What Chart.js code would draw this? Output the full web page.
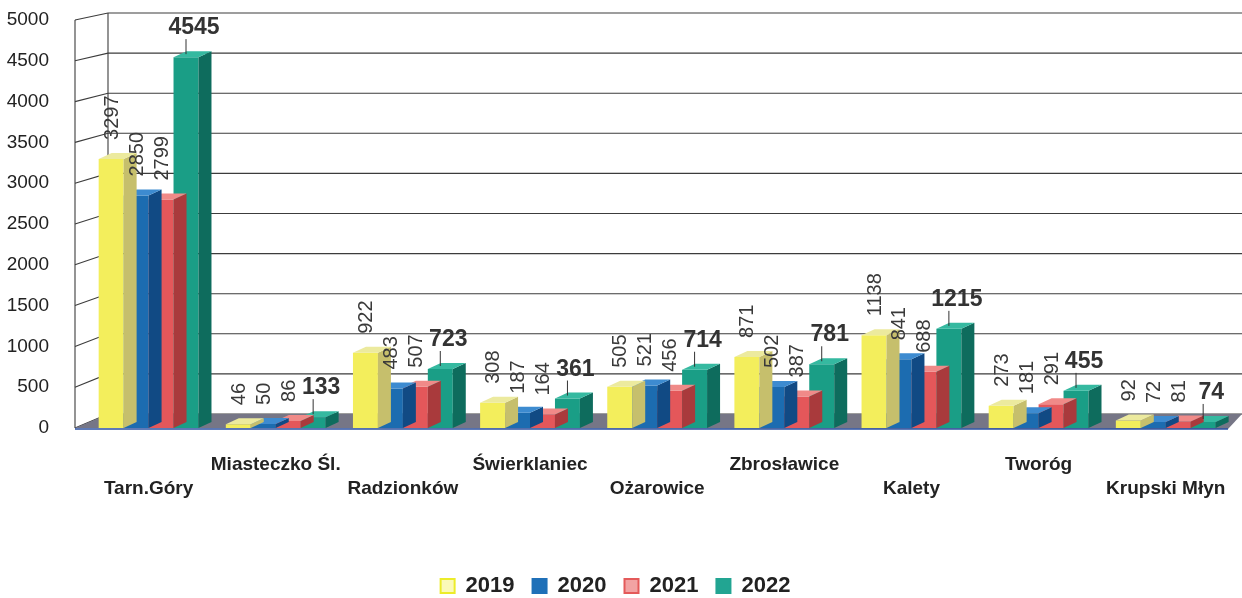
<!DOCTYPE html>
<html>
<head>
<meta charset="utf-8">
<script src="https://cdn.jsdelivr.net/npm/chart.js@4/dist/chart.umd.min.js"></script>
<style>
  html, body { margin: 0; padding: 0; background: #fff; }
  #wrap { width: 1242px; height: 598px; }
</style>
</head>
<body>
<div id="wrap"><canvas id="gminyChart"></canvas></div>
<script>
// dane z wykresu
const categories = ['Tarn.Góry', 'Miasteczko Śl.', 'Radzionków', 'Świerklaniec', 'Ożarowice',
  'Zbrosławice', 'Kalety', 'Tworóg', 'Krupski Młyn'];
const years = ['2019', '2020', '2021', '2022'];
const values2019 = [3297, 46, 922, 308, 505, 871, 1138, 273, 92];
const values2020 = [2850, 50, 483, 187, 521, 502, 841, 181, 72];
const values2021 = [2799, 86, 507, 164, 456, 387, 688, 291, 81];
const values2022 = [4545, 133, 723, 361, 714, 781, 1215, 455, 74];
const yTicks = [0, 500, 1000, 1500, 2000, 2500, 3000, 3500, 4000, 4500, 5000];

// kolory: przód, bok, góra, legenda
const front = ['#f3ee5c', '#1c6cb0', '#e4575a', '#1a9e86'];
const side = ['#c6bf6c', '#114a84', '#a93a3c', '#0e6c5d'];
const top_ = ['#ecea9e', '#3d8bd0', '#f08a88', '#35b9a0'];
const legendFill = ['#fbf9b8', '#1f70b8', '#f2a3a3', '#22a592'];
const legendStroke = ['#ecec2a', '#1f70b8', '#e45a5a', '#22a592'];

const depthX = 13, depthY = -6;
const font = 'Liberation Sans, Arial, sans-serif';

// tło 3D: ściany i podłoga
const wallPlugin = {
  id: 'wall',
  beforeDatasetsDraw(chart) {
    const c = chart.ctx, ys = chart.scales.y, ca = chart.chartArea;
    const fx = ca.left - 10, bx = ca.left + 23, right = chart.width;
    const yb = v => ys.getPixelForValue(v) - 14 + 7 * v / 5000;
    c.save();
    c.strokeStyle = '#3c3c3c';
    c.lineWidth = 1.1;
    yTicks.forEach(v => {
      c.beginPath();
      c.moveTo(fx, ys.getPixelForValue(v));
      c.lineTo(bx, yb(v));
      c.lineTo(right, yb(v));
      c.stroke();
    });
    c.beginPath();
    c.moveTo(fx, ys.getPixelForValue(0));
    c.lineTo(fx, ys.getPixelForValue(5000));
    c.moveTo(bx, yb(0));
    c.lineTo(bx, yb(5000));
    c.stroke();
    // podłoga
    const f0 = ys.getPixelForValue(0);
    c.fillStyle = '#767686';
    c.beginPath();
    c.moveTo(fx, f0);
    c.lineTo(bx, yb(0));
    c.lineTo(right, yb(0));
    c.lineTo(right - 14, f0 + 1);
    c.closePath();
    c.fill();
    c.strokeStyle = '#2a4fa0';
    c.lineWidth = 1.5;
    c.beginPath();
    c.moveTo(fx, f0 + 1);
    c.lineTo(right - 14, f0 + 1);
    c.stroke();
    c.restore();
  }
};

// boki i wierzchy słupków
const depthPlugin = {
  id: 'depth',
  afterDatasetDraw(chart, args) {
    const c = chart.ctx, i = args.index;
    c.save();
    args.meta.data.forEach(bar => {
      const l = bar.x - bar.width / 2, r = bar.x + bar.width / 2;
      c.fillStyle = side[i];
      c.beginPath();
      c.moveTo(r, bar.y);
      c.lineTo(r + depthX, bar.y + depthY);
      c.lineTo(r + depthX, bar.base + depthY);
      c.lineTo(r, bar.base);
      c.closePath();
      c.fill();
      c.fillStyle = top_[i];
      c.beginPath();
      c.moveTo(l, bar.y);
      c.lineTo(l + depthX, bar.y + depthY);
      c.lineTo(r + depthX, bar.y + depthY);
      c.lineTo(r, bar.y);
      c.closePath();
      c.fill();
    });
    c.restore();
  }
};

// etykiety wartości
const labelPlugin = {
  id: 'valueLabels',
  afterDatasetsDraw(chart) {
    const c = chart.ctx;
    c.save();
    chart.data.datasets.forEach((ds, i) => {
      chart.getDatasetMeta(i).data.forEach((bar, j) => {
        const v = ds.data[j];
        if (i < 3) {
          c.save();
          c.translate(bar.x + 1, bar.y - 19);
          c.rotate(-Math.PI / 2);
          c.font = '20px ' + font;
          c.fillStyle = '#3a3a3a';
          c.textAlign = 'left';
          c.textBaseline = 'middle';
          c.fillText(String(v), 0, 0);
          c.restore();
        } else {
          c.strokeStyle = '#333';
          c.lineWidth = 1;
          c.beginPath();
          c.moveTo(bar.x, bar.y - 18);
          c.lineTo(bar.x, bar.y - 3);
          c.stroke();
          c.font = 'bold 23px ' + font;
          c.fillStyle = '#333';
          c.textAlign = 'center';
          c.textBaseline = 'alphabetic';
          c.fillText(String(v), bar.x + 8, bar.y - 23);
        }
      });
    });
    c.restore();
  }
};

const allValues = [values2019, values2020, values2021, values2022];

new Chart(document.getElementById('gminyChart'), {
  type: 'bar',
  data: {
    labels: categories,
    datasets: years.map((y, i) => ({
      label: y,
      data: allValues[i],
      backgroundColor: front[i],
      borderWidth: 0,
      categoryPercentage: 0.785,
      barPercentage: 1.0
    }))
  },
  options: {
    responsive: true,
    maintainAspectRatio: false,
    animation: false,
    layout: { padding: { top: 20, right: 11, left: 0, bottom: -9 } },
    plugins: {
      tooltip: { enabled: false },
      legend: {
        position: 'bottom',
        labels: {
          boxWidth: 14,
          boxHeight: 14,
          padding: 18,
          color: '#222',
          font: { family: font, size: 22, weight: 'bold' },
          generateLabels: chart => chart.data.datasets.map((ds, i) => ({
            text: ds.label,
            fillStyle: legendFill[i],
            strokeStyle: legendStroke[i],
            lineWidth: 2,
            fontColor: '#222',
            datasetIndex: i,
            hidden: false
          }))
        }
      }
    },
    scales: {
      x: {
        grid: { display: false },
        border: { display: false },
        ticks: {
          autoSkip: false,
          maxRotation: 0,
          padding: 16,
          color: '#222',
          font: { family: font, size: 19, weight: 'bold', lineHeight: 1.3 },
          callback: (val, idx) => idx % 2 ? [categories[idx]] : ['', categories[idx]]
        },
        afterFit: s => { s.height = 129; }
      },
      y: {
        min: 0,
        max: 5000,
        grid: { display: false },
        border: { display: false },
        afterBuildTicks: s => { s.ticks = yTicks.map(v => ({ value: v })); },
        ticks: {
          padding: 28,
          color: '#222',
          font: { family: font, size: 19 },
          callback: v => String(v)
        },
        afterFit: s => {
          s.width = 85;
          s.paddingTop = 12;
          s.paddingBottom = 12;
        }
      }
    }
  },
  plugins: [wallPlugin, depthPlugin, labelPlugin]
});
</script>
</body>
</html>
